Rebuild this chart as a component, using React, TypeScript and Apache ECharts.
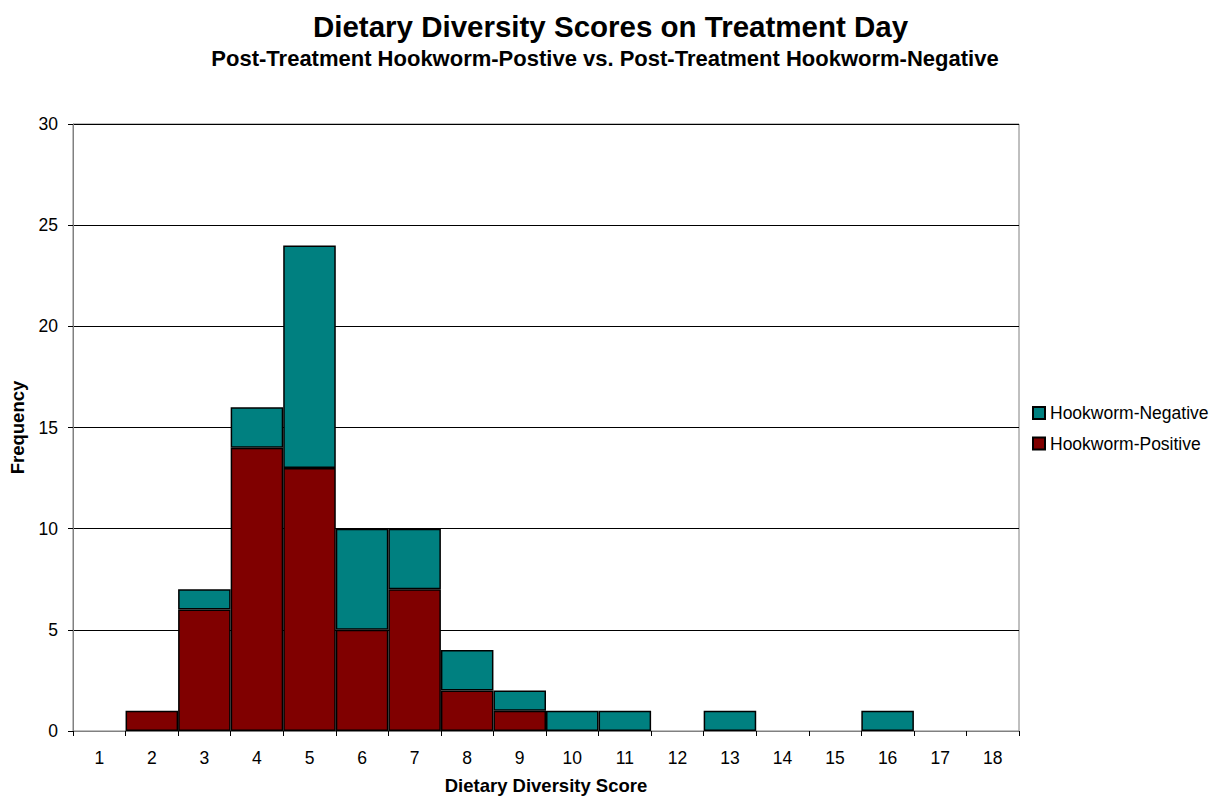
import React, { useEffect, useRef } from "react";
import * as echarts from "echarts";

const categories = ["1","2","3","4","5","6","7","8","9","10","11","12","13","14","15","16","17","18"];
const positiveValues = [0,1,6,14,13,5,7,2,1,0,0,0,0,0,0,0,0,0];
const negativeValues = [0,0,1,2,11,5,3,2,1,1,1,0,1,0,0,1,0,0];
const yTicks = [0, 5, 10, 15, 20, 25, 30];

const toData = (arr: number[]) => arr.map((v) => (v === 0 ? "-" : v));

export default function App() {
  const ref = useRef<HTMLDivElement>(null);
  useEffect(() => {
    document.body.style.margin = "0";
    const chart = echarts.init(ref.current!, null, { renderer: "svg" });
    const font = "Arial, 'Liberation Sans', sans-serif";
    chart.setOption({
      animation: false,
      backgroundColor: "#ffffff",
      textStyle: { fontFamily: font },
      title: [
        {
          text: "Dietary Diversity Scores on Treatment Day",
          left: "center",
          top: 11,
          padding: 0,
          textStyle: { fontFamily: font, fontSize: 29.5, fontWeight: "bold", color: "#000" },
        },
        {
          text: "Post-Treatment Hookworm-Postive vs. Post-Treatment Hookworm-Negative",
          left: 605,
          textAlign: "center",
          top: 47,
          padding: 0,
          textStyle: { fontFamily: font, fontSize: 22, fontWeight: "bold", color: "#000" },
        },
      ],
      legend: {
        orient: "vertical",
        left: 1027,
        top: 399,
        itemWidth: 12,
        itemHeight: 12,
        itemGap: 12.5,
        icon: "rect",
        textStyle: { fontFamily: font, fontSize: 17.5, color: "#000" },
        data: ["Hookworm-Negative", "Hookworm-Positive"],
      },
      grid: {
        left: 71,
        right: 202,
        top: 124,
        bottom: 69,
        show: true,
        borderColor: "#808080",
        borderWidth: 1,
        backgroundColor: "#ffffff",
      },
      xAxis: {
        type: "category",
        data: categories,
        name: "Dietary Diversity Score",
        nameLocation: "middle",
        nameGap: 45,
        nameTextStyle: { fontFamily: font, fontSize: 18.5, fontWeight: "bold", color: "#000" },
        axisLine: { lineStyle: { color: "#808080", width: 1 } },
        axisTick: { show: true, length: 5, lineStyle: { color: "#000" } },
        axisLabel: { fontFamily: font, fontSize: 17.5, color: "#000", margin: 18 },
      },
      yAxis: {
        type: "value",
        min: 0,
        max: yTicks[yTicks.length - 1],
        interval: 5,
        name: "Frequency",
        nameLocation: "middle",
        nameGap: 46,
        nameTextStyle: { fontFamily: font, fontSize: 18.5, fontWeight: "bold", color: "#000" },
        axisLine: { show: true, lineStyle: { color: "#808080", width: 1 } },
        axisTick: { show: true, length: 5, lineStyle: { color: "#000" } },
        axisLabel: { fontFamily: font, fontSize: 17.5, color: "#000", margin: 15 },
        splitLine: { show: true, lineStyle: { color: "#000", width: 1 } },
      },
      series: [
        {
          name: "Hookworm-Positive",
          type: "bar",
          stack: "total",
          data: toData(positiveValues),
          barCategoryGap: "0%",
          itemStyle: { color: "#800000", borderColor: "#000", borderWidth: 1.5 },
        },
        {
          name: "Hookworm-Negative",
          type: "bar",
          stack: "total",
          data: toData(negativeValues),
          barCategoryGap: "0%",
          itemStyle: { color: "#008080", borderColor: "#000", borderWidth: 1.5 },
        },
      ],
    });
    return () => chart.dispose();
  }, []);
  return <div ref={ref} style={{ width: 1221, height: 800 }} />;
}
